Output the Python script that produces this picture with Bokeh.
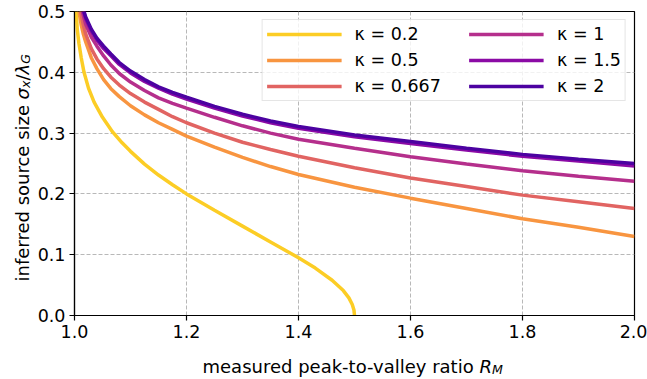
import numpy as np
from bokeh.plotting import figure
from bokeh.layouts import column, row
from bokeh.models import Range1d, FixedTicker, Label, Legend, LegendItem
from bokeh.embed import file_html
from bokeh.resources import INLINE

# ---------------- data ----------------
labels = ["κ = 0.2", "κ = 0.5", "κ = 0.667", "κ = 1", "κ = 1.5", "κ = 2"]
colors = ["#fccd25", "#f89540", "#e16462", "#b52f8c", "#8b0aa5", "#4c02a1"]

x_k02 = [1.003, 1.005, 1.008, 1.012, 1.017, 1.025, 1.035, 1.05, 1.068, 1.085, 1.10, 1.125, 1.15, 1.175,
         1.20, 1.25, 1.30, 1.35, 1.40, 1.43, 1.46, 1.48, 1.49, 1.496, 1.499, 1.50]
y_k02 = [0.500, 0.470, 0.447, 0.424, 0.400, 0.374, 0.351, 0.326, 0.302, 0.284, 0.270, 0.249, 0.231, 0.215,
         0.200, 0.173, 0.147, 0.121, 0.095, 0.078, 0.058, 0.041, 0.029, 0.018, 0.009, 0.000]

x_k05 = [1.008, 1.012, 1.016, 1.02, 1.03, 1.04, 1.052, 1.065, 1.08, 1.10, 1.125, 1.15, 1.175, 1.20,
         1.25, 1.30, 1.35, 1.40, 1.50, 1.60, 1.70, 1.80, 1.90, 2.00]
y_k05 = [0.500, 0.478, 0.462, 0.450, 0.424, 0.406, 0.388, 0.373, 0.360, 0.345, 0.330, 0.317, 0.306, 0.295,
         0.277, 0.260, 0.245, 0.232, 0.211, 0.193, 0.176, 0.159, 0.145, 0.130]

x_k0667 = [1.011, 1.015, 1.02, 1.03, 1.04, 1.052, 1.065, 1.08, 1.10, 1.125, 1.15, 1.175, 1.20,
           1.25, 1.30, 1.35, 1.40, 1.50, 1.60, 1.70, 1.80, 1.90, 2.00]
y_k0667 = [0.500, 0.481, 0.463, 0.439, 0.422, 0.406, 0.392, 0.379, 0.365, 0.351, 0.339, 0.327, 0.317,
           0.300, 0.285, 0.273, 0.262, 0.243, 0.226, 0.212, 0.198, 0.187, 0.176]

x_k1 = [1.014, 1.02, 1.03, 1.04, 1.052, 1.065, 1.08, 1.10, 1.125, 1.15, 1.175, 1.20,
        1.25, 1.30, 1.35, 1.40, 1.50, 1.60, 1.70, 1.80, 1.90, 2.00]
y_k1 = [0.500, 0.479, 0.458, 0.443, 0.427, 0.412, 0.398, 0.384, 0.370, 0.358, 0.349, 0.341,
        0.326, 0.312, 0.300, 0.290, 0.275, 0.261, 0.249, 0.238, 0.229, 0.221]

x_k15 = [1.016, 1.02, 1.03, 1.04, 1.052, 1.065, 1.08, 1.10, 1.125, 1.15, 1.175, 1.20,
         1.25, 1.30, 1.35, 1.40, 1.50, 1.60, 1.70, 1.80, 1.90, 2.00]
y_k15 = [0.500, 0.488, 0.468, 0.453, 0.439, 0.427, 0.413, 0.399, 0.385, 0.374, 0.364, 0.356,
         0.341, 0.328, 0.317, 0.308, 0.294, 0.283, 0.272, 0.262, 0.254, 0.246]

x_k2 = [1.017, 1.02, 1.03, 1.04, 1.052, 1.065, 1.08, 1.10, 1.125, 1.15, 1.175, 1.20,
        1.25, 1.30, 1.35, 1.40, 1.50, 1.60, 1.70, 1.80, 1.90, 2.00]
y_k2 = [0.500, 0.491, 0.471, 0.456, 0.443, 0.430, 0.416, 0.402, 0.388, 0.376, 0.367, 0.359,
        0.344, 0.331, 0.320, 0.311, 0.297, 0.286, 0.275, 0.265, 0.257, 0.250]

x_ticks = [1.0, 1.2, 1.4, 1.6, 1.8, 2.0]
x_tick_labels = ["1.0", "1.2", "1.4", "1.6", "1.8", "2.0"]
y_ticks = [0.0, 0.1, 0.2, 0.3, 0.4, 0.5]
y_tick_labels = ["0.0", "0.1", "0.2", "0.3", "0.4", "0.5"]

series = [(x_k02, y_k02), (x_k05, y_k05), (x_k0667, y_k0667),
          (x_k1, y_k1), (x_k15, y_k15), (x_k2, y_k2)]

# ---------------- geometry ----------------
FONT = "DejaVu Sans"
FS = 18          # axis titles
TFS = 17.5       # tick labels
LFS = 17.5       # legend
SUB = 0.7 * FS
W, H = 647, 379
YLAB_W = 34            # strip on the left holding the y-axis title
XLAB_H = 34            # strip at the bottom holding the x-axis title
PW, PH = W - YLAB_W, H - XLAB_H
BL, BR, BT, BB = 72 - YLAB_W, 13, 11, 64 - XLAB_H

# ---------------- main figure ----------------
p = figure(width=PW, height=PH, output_backend="svg", toolbar_location=None,
           x_range=Range1d(1.0, 2.0), y_range=Range1d(0.0, 0.5),
           min_border_left=BL, min_border_right=BR, min_border_top=BT, min_border_bottom=BB)
p.background_fill_color = "white"
p.border_fill_color = "white"
p.outline_line_color = "black"
p.outline_line_width = 1.2

for ax, ticks, labs in ((p.xaxis[0], x_ticks, x_tick_labels), (p.yaxis[0], y_ticks, y_tick_labels)):
    ax.ticker = FixedTicker(ticks=ticks)
    ax.major_label_overrides = {t: l for t, l in zip(ticks, labs)}
    ax.minor_tick_line_color = None
    ax.major_tick_out = 5
    ax.major_tick_in = 0
    ax.major_tick_line_color = "black"
    ax.major_tick_line_width = 1.2
    ax.axis_line_color = "black"
    ax.axis_line_width = 1.2
    ax.major_label_text_font = FONT
    ax.major_label_text_font_size = f"{TFS}px"
    ax.major_label_text_color = "black"
    ax.major_label_standoff = 4

for g in (p.xgrid[0], p.ygrid[0]):
    g.grid_line_color = "#b8b8b8"
    g.grid_line_dash = "4 2"
    g.grid_line_width = 1

renderers = []
for (xs, ys), c in zip(series, colors):
    r = p.line(xs, ys, line_color=c, line_width=3.5)
    renderers.append(r)

# pad the widest first-column label so the two legend columns sit apart as in the reference
legend_labels = list(labels)
legend_labels[2] = legend_labels[2] + "\u00a0" * 4
legend = Legend(items=[LegendItem(label=l, renderers=[r]) for l, r in zip(legend_labels, renderers)],
                location="top_right", ncols=2)
legend.label_text_font = FONT
legend.label_text_font_size = f"{LFS}px"
legend.label_text_color = "black"
legend.glyph_width = 75
legend.glyph_height = 20
legend.label_standoff = 13
legend.spacing = 6
legend.padding = 4
legend.margin = 8
legend.border_line_color = "#cccccc"
legend.border_line_width = 1
legend.background_fill_alpha = 0.8
p.add_layout(legend)


# ---------------- axis titles in their own small text-only figures ----------------
def text_fig(w, h):
    f = figure(width=w, height=h, output_backend="svg", toolbar_location=None,
               x_range=Range1d(0, 1), y_range=Range1d(0, 1),
               x_axis_location=None, y_axis_location=None,
               min_border_left=0, min_border_right=0, min_border_top=0, min_border_bottom=0)
    f.outline_line_color = None
    f.background_fill_color = "white"
    f.border_fill_color = "white"
    f.grid.visible = False
    return f


def em(units, size):
    return units / 2048.0 * size


def lab(f, sx, sy, text, size, style="normal", angle=0.0):
    f.add_layout(Label(x=sx, y=sy, x_units="screen", y_units="screen", text=text,
                       angle=angle, text_font=FONT, text_font_size=f"{size}px",
                       text_font_style=style, text_color="black",
                       text_align="left", text_baseline="alphabetic"))


# x title: baseline at y = 365.5 px of the page
fx = text_fig(W, XLAB_H)
xb = XLAB_H - (365.5 - PH)
x0 = 202
lab(fx, x0, xb, "measured peak-to-valley ratio", FS)
xR = x0 + 277
lab(fx, xR, xb, "R", FS, "italic")
lab(fx, xR + em(1423, FS), xb - 3, "M", SUB, "italic")

# y title: rotated, baseline at x = 22 px, starting 281 px from the top of the page.
# In the row the strip's frame is aligned with the main frame (bottom edge at PH - BB).
fy = text_fig(YLAB_W, PH)
segs = [("inferred source size", FS, "normal", 20262, 0, 4),
        ("σ", FS, "italic", 1300, 0, 0),
        ("x", SUB, "italic", 1212, 3, 0),
        ("/", FS, "normal", 690, 0, 0),
        ("λ", FS, "italic", 1212, 0, 0),
        ("G", SUB, "italic", 1595, 3, 0)]
pos = (PH - BB) - 281
for text, size, style, w, shift, gap in segs:
    lab(fy, 22 + shift, pos, text, size, style, np.pi / 2)
    pos += em(w, size) + gap

layout = column(row(fy, p), fx)
open("out.html", "w").write(file_html(layout, INLINE))
